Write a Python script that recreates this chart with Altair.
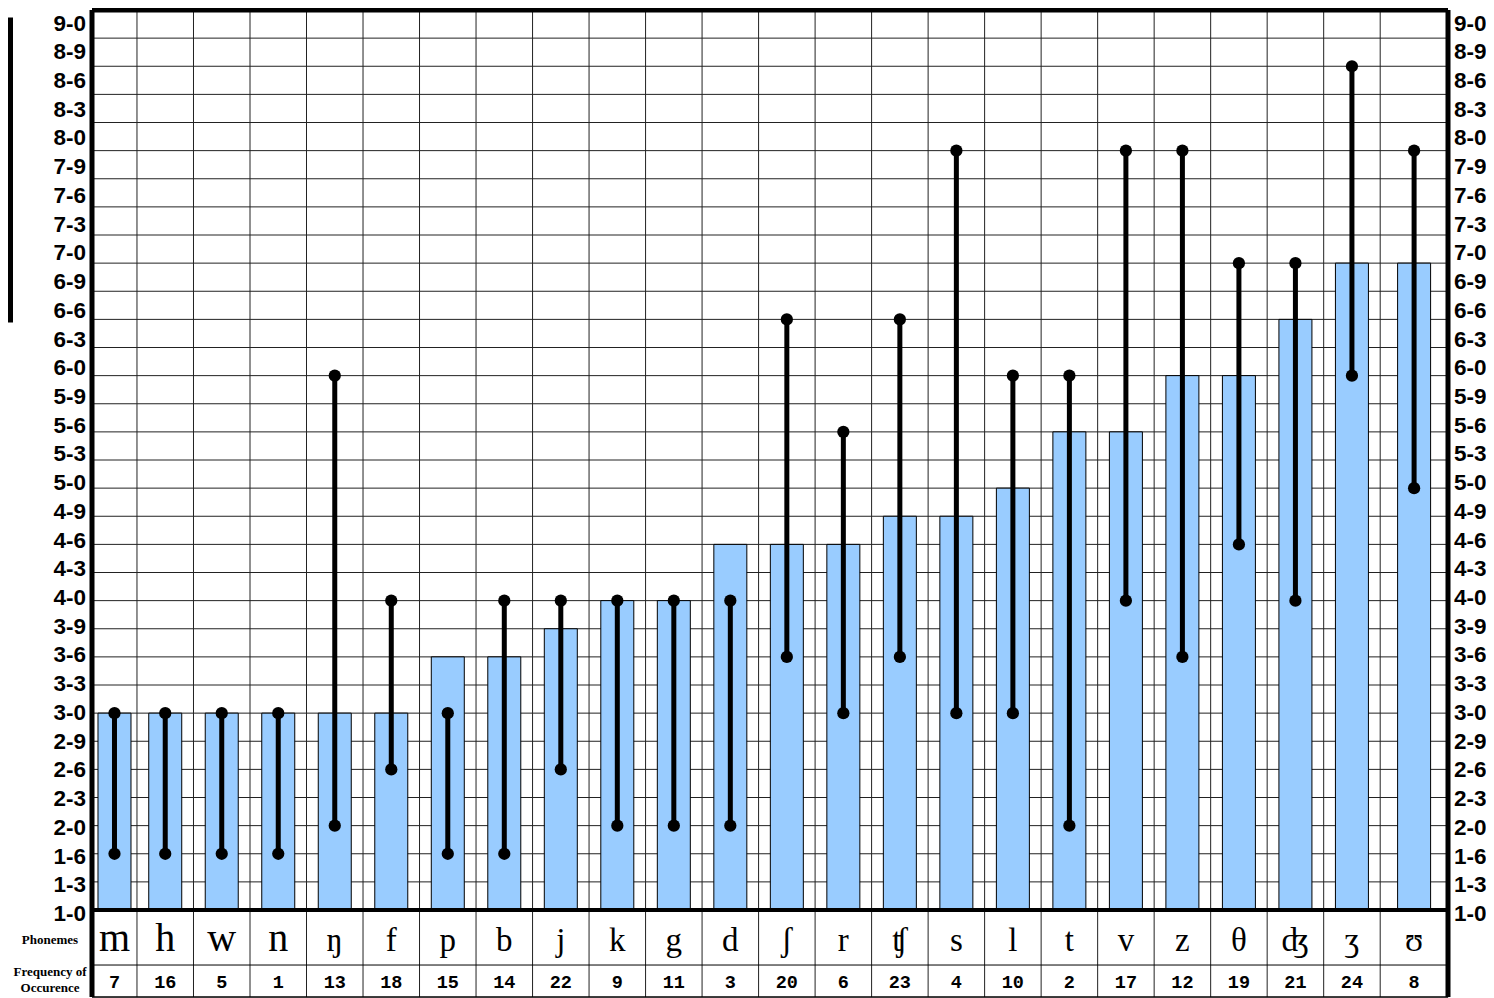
import altair as alt
import pandas as pd

# ---- data ----
age_ticks = ["1-0", "1-3", "1-6", "2-0", "2-3", "2-6", "2-9", "3-0", "3-3", "3-6", "3-9",
             "4-0", "4-3", "4-6", "4-9", "5-0", "5-3", "5-6", "5-9", "6-0", "6-3", "6-6", "6-9",
             "7-0", "7-3", "7-6", "7-9", "8-0", "8-3", "8-6", "8-9", "9-0"]
phonemes = ["m", "h", "w", "n", "ŋ", "f", "p", "b", "j", "k", "g", "d",
            "ʃ", "r", "ʧ", "s", "l", "t", "v", "z", "θ", "ʤ", "ʒ", "ʊ"]
frequency = [7, 16, 5, 1, 13, 18, 15, 14, 22, 9, 11, 3, 20, 6, 23, 4, 10, 2, 17, 12, 19, 21, 24, 8]
bar_age = ["3-0", "3-0", "3-0", "3-0", "3-0", "3-0", "3-6", "3-6", "3-9", "4-0", "4-0", "4-6",
           "4-6", "4-6", "4-9", "4-9", "5-0", "5-6", "5-6", "6-0", "6-0", "6-6", "7-0", "7-0"]
range_start = ["1-6", "1-6", "1-6", "1-6", "2-0", "2-6", "1-6", "1-6", "2-6", "2-0", "2-0", "2-0",
               "3-6", "3-0", "3-6", "3-0", "3-0", "2-0", "4-0", "3-6", "4-6", "4-0", "6-0", "5-0"]
range_end = ["3-0", "3-0", "3-0", "3-0", "6-0", "4-0", "3-0", "4-0", "4-0", "4-0", "4-0", "4-0",
             "6-6", "5-6", "6-6", "8-0", "6-0", "6-0", "8-0", "8-0", "7-0", "7-0", "8-9", "8-0"]

pos = {a: k for k, a in enumerate(age_ticks)}
df = pd.DataFrame({
    "i": list(range(len(phonemes))),
    "ph": phonemes,
    "freq": [str(f) for f in frequency],
    "bar": [pos[a] for a in bar_age],
    "lo": [pos[a] for a in range_start],
    "hi": [pos[a] for a in range_end],
})
ticks_df = pd.DataFrame({"k": list(range(len(age_ticks))), "label": age_ticks})

# ---- scales ----
XMIN, XMAX = -0.296, 23.70
YMIN, YMAX = -3.093, 32.0
H = 987
PX = H / (YMAX - YMIN)  # pixels per row
NLAST = len(phonemes) - 1
xsc = alt.Scale(domain=[XMIN, XMAX], nice=False, zero=False, padding=0)
ysc = alt.Scale(domain=[YMIN, YMAX], nice=False, zero=False, padding=0)

AX_FONT = "'Liberation Sans', Arial, sans-serif"

# the first and last columns of the original are wider/narrower: centre marks in their cells
xc_expr = "datum.i == 0 ? (%f + 0.5) / 2 : (datum.i == %d ? (%f + %f) / 2 : datum.i)" % (
    XMIN, NLAST, NLAST - 0.5, XMAX)
X = alt.X("xc:Q", scale=xsc, axis=None)
base = alt.Chart(df).transform_calculate(xc=xc_expr)
tick_base = alt.Chart(ticks_df)

# horizontal grid lines (one per age step)
hgrid = tick_base.transform_filter("datum.k > 0").mark_rule(color="#222", strokeWidth=1).encode(
    x=alt.XDatum(XMIN, scale=xsc, axis=None), x2=alt.X2Datum(XMAX),
    y=alt.Y("k:Q", scale=ysc, axis=None))

# column boundaries (vertical grid through plot and table)
vgrid = alt.Chart(df).transform_filter("datum.i < %d" % NLAST).transform_calculate(
    b="datum.i + 0.5").mark_rule(color="#222", strokeWidth=1).encode(
    x=alt.X("b:Q", scale=xsc, axis=None),
    y=alt.YDatum(YMIN, scale=ysc, axis=None), y2=alt.Y2Datum(YMAX))

# age labels on both sides (the original's labels drift slightly against the grid)
lab_calc = "datum.k - (4 - 0.6 * datum.k) / %f" % PX
left_lab = tick_base.transform_calculate(yl=lab_calc).mark_text(
    font=AX_FONT, fontSize=22.5, fontWeight="bold", color="black", align="right",
    baseline="middle", dx=-6).encode(
    x=alt.XDatum(XMIN, scale=xsc, axis=None), y=alt.Y("yl:Q", scale=ysc, axis=None),
    text="label:N")
right_lab = tick_base.transform_calculate(yl=lab_calc).mark_text(
    font=AX_FONT, fontSize=22.5, fontWeight="bold", color="black", align="left",
    baseline="middle", dx=6).encode(
    x=alt.XDatum(XMAX, scale=xsc, axis=None), y=alt.Y("yl:Q", scale=ysc, axis=None),
    text="label:N")

bars = base.mark_bar(width=33, color="#99CCFF", stroke="black", strokeWidth=1).encode(
    x=X,
    y=alt.Y("bar:Q", scale=ysc, axis=None),
    y2=alt.Y2Datum(0),
)

ranges = base.mark_rule(color="black", strokeWidth=5).encode(
    x=X, y=alt.Y("lo:Q", scale=ysc, axis=None), y2="hi:Q")
dots_lo = base.mark_circle(size=150, color="black", opacity=1).encode(
    x=X, y=alt.Y("lo:Q", scale=ysc, axis=None))
dots_hi = base.mark_circle(size=150, color="black", opacity=1).encode(
    x=X, y=alt.Y("hi:Q", scale=ysc, axis=None))

ph_text = base.mark_text(font="'Liberation Serif', 'DejaVu Serif', serif", baseline="alphabetic",
                         color="black").encode(
    x=X, y=alt.YDatum(-1.47, scale=ysc, axis=None), text="ph:N",
    size=alt.condition("datum.i < 4", alt.value(40), alt.value(33)))
fq_text = base.mark_text(font="'Liberation Mono', 'DejaVu Sans Mono', monospace", fontWeight="bold",
                         fontSize=18.5, baseline="middle", color="black").encode(
    x=X, y=alt.YDatum(-2.56, scale=ysc, axis=None), text="freq:N")

one = pd.DataFrame({"k": [0]})
deco = alt.Chart(one)


def hline(yv, w):
    return deco.mark_rule(color="black", strokeWidth=w).encode(
        x=alt.XDatum(XMIN, scale=xsc, axis=None), x2=alt.X2Datum(XMAX),
        y=alt.YDatum(yv, scale=ysc, axis=None))


def vline(xv, w):
    return deco.mark_rule(color="black", strokeWidth=w).encode(
        x=alt.XDatum(xv, scale=xsc, axis=None),
        y=alt.YDatum(YMIN, scale=ysc, axis=None), y2=alt.Y2Datum(YMAX))


borders = [hline(0, 4), hline(YMAX, 5), hline(-1.956, 1), hline(YMIN, 1.5),
           vline(XMIN, 5), vline(XMAX, 5)]

head1 = deco.mark_text(text="Phonemes", font="'Liberation Serif', serif", fontWeight="bold",
                       fontSize=13, align="center", baseline="middle", dx=-42, color="black").encode(
    x=alt.XDatum(XMIN, scale=xsc, axis=None), y=alt.YDatum(-1.07, scale=ysc, axis=None))
head2 = deco.mark_text(text=["Frequency of", "Occurence"], font="'Liberation Serif', serif",
                       fontWeight="bold", fontSize=13, lineHeight=16, align="center",
                       baseline="middle", dx=-42, color="black").encode(
    x=alt.XDatum(XMIN, scale=xsc, axis=None), y=alt.YDatum(-2.2, scale=ysc, axis=None))

# cropped bracket at the far left edge of the original
br_v = deco.mark_rule(color="black", strokeWidth=8).encode(
    x=alt.value(-83), y=alt.value(8), y2=alt.value(312))
br_t = deco.mark_rule(color="black", strokeWidth=5).encode(
    x=alt.value(-92), x2=alt.value(-79), y=alt.value(10))
br_b = deco.mark_rule(color="black", strokeWidth=5).encode(
    x=alt.value(-92), x2=alt.value(-79), y=alt.value(310))

chart = alt.layer(
    hgrid, vgrid, bars, ranges, dots_lo, dots_hi, ph_text, fq_text, *borders,
    left_lab, right_lab, head1, head2, br_v, br_t, br_b
).properties(
    width=1356, height=H,
    autosize=alt.AutoSizeParams(type="none"),
    padding={"left": 84, "top": 2, "right": 38, "bottom": 1},
).configure_view(stroke=None).configure(background="white")

chart.save("out.html", embed_options={"renderer": "svg", "actions": False})
